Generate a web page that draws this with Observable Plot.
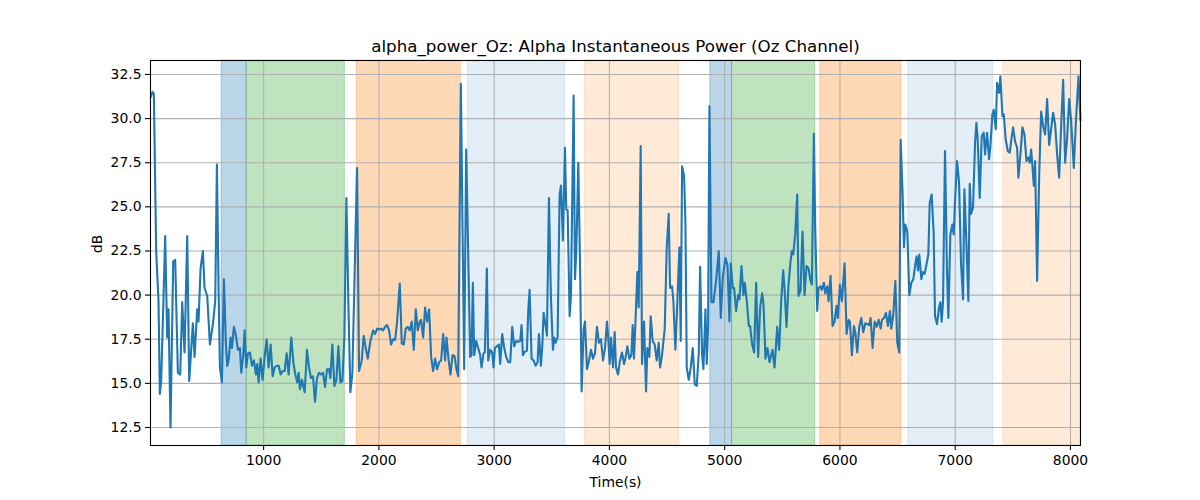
<!DOCTYPE html>
<html>
<head>
<meta charset="utf-8">
<script src="https://cdn.jsdelivr.net/npm/d3@7"></script>
<script src="https://cdn.jsdelivr.net/npm/@observablehq/plot@0.6"></script>
<style>
  html, body { margin: 0; padding: 0; background: #fff; }
  #chart { width: 1200px; height: 500px; }
</style>
</head>
<body>
<div id="chart"></div>
<script>
const chartTitle = "alpha_power_Oz: Alpha Instantaneous Power (Oz Channel)";
const xLabel = "Time(s)";
const yLabel = "dB";
const xTicks = [1000, 2000, 3000, 4000, 5000, 6000, 7000, 8000];
const yTicks = [12.5, 15.0, 17.5, 20.0, 22.5, 25.0, 27.5, 30.0, 32.5];

const spanStart = [635, 853, 1808, 2772, 3788, 4875, 5064, 5829, 6593, 7418];
const spanEnd   = [853, 1705, 2711, 3615, 4604, 5064, 5786, 6532, 7331, 8087];
const spanKind  = ["A", "B", "C", "D", "E", "A", "B", "C", "D", "E"];

const times = [
18.6,36,47.6,67.8,88.1,99.7,111.3,125.7,146,163.4,175,192.3,215.5,232.8,256,276.3,293.6,313.9,337.1,354.4,
386.3,400.8,423.9,435.5,452.9,473.1,487.6,510.8,533.9,560,580.2,594.7,609.2,620.8,638.1,655.5,672.9,684.5,696,713.4,
725,742.4,759.7,777.1,794.5,806,823.4,835,849.5,864,881.3,898.7,916.1,933.4,945,956.6,974,991.3,1008.7,1026,
1043.4,1060.8,1078.2,1095.6,1113,1130.3,1147.7,1165,1182.4,1199.8,1217.1,1240.3,1257.7,1275,1292.4,1304,1315.6,1333,1356.1,
1376.4,1393.8,1411.1,1428.5,1445.9,1463.2,1480.6,1498,1515.4,1532.7,1550.1,1567.5,1579,1596.4,1613.8,1631.2,1648.5,1665.9,1683.3,1700.6,
1718,1735.4,1752.7,1770.1,1793.3,1810.6,1828,1851.2,1868.5,1885.9,1903.3,1926.4,1949.6,1967,1984.3,2001.7,2019.1,2036.5,2053.8,2071.2,
2088.6,2105.9,2123.3,2140.7,2158,2181.2,2198.6,2215.9,2233.3,2250.7,2268,2285.4,2302.8,2320.2,2337.5,2354.9,2366.5,2383.9,2401.2,2418.6,
2436,2453.3,2470.7,2488.1,2505.4,2522.8,2540.2,2557.6,2574.9,2586.5,2603.9,2621.2,2638.6,2656,
2673.4,2687.9,2711,2740,2757.3,2792.1,2803.7,2815.2,2826.8,2844.2,2861.6,2878.9,2890.5,2907.9,2919.5,2936.8,2948.4,2965.8,2983.1,2994.7,
3006.3,3023.7,3041,3052.6,3070,3087.4,3104.7,3122.1,3139.5,3156.8,3174.2,3191.6,3208.9,3226.3,3237.9,3249.5,3266.9,3284.2,3295.8,3307.4,
3324.8,3342.1,3359.5,3376.9,3388.4,3405.8,3417.4,3429,3446.3,3457.9,3475.3,3492.7,3510,3521.6,3533.2,3550.5,3567.9,3579.5,3596.9,3614.2,
3625.8,3637.4,3654.8,3666.3,3689.5,3701.1,3712.7,3730,3747.4,3759,3776.4,3787.9,3805.3,3822.7,3840,3857.4,3874.8,3892.2,3909.5,3926.9,
3944.3,3961.7,3979,3990.6,4002.2,4013.8,4031.1,
4045.5,4057.1,4074.5,4091.9,4109.2,4126.6,4138.2,4155.5,4172.9,4190.3,4201.9,4213.4,4230.8,4242.4,4254,4271.3,4282.9,4300.3,4317.7,4329.2,
4346.6,4358.2,4375.6,4392.9,4410.3,4427.7,4439.3,4456.6,4479.8,4497.2,4514.5,4526.1,4543.5,4555,4572.4,4589.8,4607.2,4618.7,4630.3,4647.7,
4659.3,4670.9,4688.2,4705.6,4723,4740.3,4757.7,4775.1,4786.7,4804,4815.6,4833,4844.6,4856.1,4867.7,4885.1,4902.5,4925.6,4948.8,4966.1,
4983.5,5006.7,5024,5041.4,5053,5070.4,5081.9,5099.3,5116.7,5128.3,5145.6,5163,5174.6,5192,5209.3,5220.9,5238.3,5255.6,5273,5290.4,
5307.8,5325.1,5336.7,5354.1,5371.4,5388.8,
5414.9,5432.3,5443.8,5455.4,5472.8,5490.2,5507.5,5519.1,5536.5,5553.9,5571.2,5582.8,5594.4,5611.8,5629.1,5640.7,5658.1,5675.4,5692.8,5710.2,
5727.6,5744.9,5756.5,5773.9,5785.5,5802.8,5814.4,5831.8,5843.4,5860.7,5872.3,5889.7,5901.3,5918.6,5936,5953.4,5970.7,5982.3,5999.7,6017.1,
6040.2,6057.6,6075,6086.5,6103.9,6121.3,6132.9,6150.2,6167.6,6185,6202.3,6219.7,6237.1,6254.4,6266,6283.4,6300.8,6318.1,6335.5,6352.9,
6364.5,6381.8,6399.2,6416.6,6433.9,6445.5,6462.9,6480.3,6497.6,6515,6526.6,6544,6555.5,6567.1,6584.5,6601.8,6619.2,6636.6,6654,6665.5,
6677.1,6688.7,6706.1,6717.6,6735,
6755.3,6766.9,6778.5,6795.8,6813.2,6824.8,6842.2,6859.5,6871.1,6882.7,6894.3,6911.6,6929,6940.6,6958,6975.3,6986.9,6998.5,7015.9,7033.2,
7050.6,7068,7079.5,7096.9,7114.3,7125.9,7137.4,7154.8,7172.2,7183.8,7195.3,7212.7,7230.1,7247.5,7259,7276.4,7293.8,7305.3,7322.7,7334.3,
7351.7,7363.3,7380.6,7392.2,7409.6,7421.2,7438.5,7455.9,7473.3,7484.9,7502.2,7519.6,7537,7548.5,7565.9,7583.3,7600.6,7618,7635.4,7647,
7658.6,7670.1,7681.7,7693.3,7710.7,7728,7745.4,7762.8,7780.1,7797.5,7814.9,7832.2,7849.6,7867,7884.3,7901.7,7919.1,7936.5,7953.8,7971.2,
7988.6,8005.9,8029.1,8046.5,8069.6,8087
];

const values = [
31.18,31.52,31.4,22.5,19.66,14.4,15.14,18.5,23.35,17.6,19.2,12.5,21.9,22.0,15.6,15.5,19.6,16.75,23.35,15.14,
18.4,16.5,19.2,18.5,21.5,22.5,20.4,19.95,17.2,18.35,19.66,27.4,20.4,15.9,15.05,20.9,17.2,15.99,16.3,17.6,
17.0,18.2,17.7,16.9,17.0,15.6,16.6,18.0,15.9,16.7,16.75,16.0,16.3,15.5,16.1,15.05,16.4,15.2,16.5,17.5,
15.9,17.2,15.4,15.9,16.0,16.0,15.5,15.7,15.7,16.7,15.5,17.6,16.2,15.5,15.05,15.6,14.67,15.2,14.5,
16.9,15.9,15.3,15.4,13.96,15.3,15.6,15.5,15.6,14.8,15.8,15.8,15.3,17.2,14.86,15.2,17.1,15.05,15.14,17.6,
25.5,19.5,14.5,15.6,22.3,27.2,15.7,16.3,17.7,17.0,16.4,17.4,18.0,17.8,18.1,18.05,18.1,18.0,18.2,18.3,
18.0,17.2,17.5,17.45,18.5,20.65,17.25,17.2,18.1,18.2,18.0,18.5,16.9,19.2,18.0,18.5,18.6,17.6,19.3,18.5,
19.2,16.5,15.7,16.4,15.8,16.2,16.3,17.8,16.3,17.6,16.4,15.5,16.6,16.55,
15.8,15.4,31.97,15.8,28.25,16.5,16.6,20.7,16.6,17.4,17.0,16.6,15.9,16.7,16.75,21.5,16.3,16.9,16.75,15.9,
17.0,17.1,17.2,16.1,17.8,17.0,16.5,16.2,16.2,18.2,17.1,17.4,17.35,17.4,18.3,16.6,16.8,16.85,19.1,20.3,
16.4,16.3,16.0,16.2,17.8,16.0,17.1,19.0,18.3,17.7,25.5,19.85,16.9,17.6,17.3,17.6,25.7,26.2,23.1,28.35,
24.85,24.8,18.8,20.0,31.3,20.9,22.5,27.5,20.8,14.54,18.1,18.5,15.8,16.3,16.9,16.4,16.7,18.2,17.3,17.5,
16.3,17.0,18.5,17.5,16.1,17.6,15.9,
17.9,15.9,15.5,16.3,16.75,16.1,16.4,17.1,16.4,16.6,18.3,16.4,19.3,21.3,19.3,28.44,16.1,18.5,14.54,17.0,
16.5,18.8,17.4,17.2,16.3,17.3,15.9,16.6,18.1,22.7,24.6,20.4,20.5,19.66,16.9,19.66,22.7,17.4,27.3,26.75,
24.2,15.9,15.2,15.9,17.0,14.95,14.86,16.7,21.6,16.6,15.8,19.2,16.1,18.2,30.7,19.6,19.6,20.8,22.5,18.7,
21.0,22.1,21.7,18.5,21.8,20.4,20.4,19.1,20.0,19.76,21.65,20.0,20.7,19.66,18.25,18.25,17.2,16.75,20.7,16.5,
19.3,20.1,19.5,16.4,17.0,16.2,
16.9,15.9,17.0,18.2,16.9,19.66,21.4,20.4,18.2,20.6,21.9,22.5,22.3,23.44,25.7,19.95,20.25,23.6,20.0,21.65,
21.5,20.8,20.6,29.14,23.8,19.1,20.4,20.5,20.3,20.7,20.1,20.5,19.66,21.1,18.25,18.5,19.4,18.7,20.6,19.66,
21.8,17.8,18.6,18.5,16.6,18.25,17.9,16.75,18.2,18.7,17.9,18.4,18.35,18.3,18.7,17.0,18.5,18.2,18.6,18.1,
18.6,18.7,19.0,18.25,19.1,18.1,18.9,20.8,17.3,16.75,28.8,25.7,22.7,24.0,23.6,20.0,20.7,20.9,21.75,22.2,
21.4,22.3,20.9,21.3,21.2,
21.9,22.3,25.2,25.7,23.5,18.8,18.35,19.3,19.6,18.5,19.66,28.16,21.3,18.7,23.44,24.0,23.44,25.3,27.6,26.4,
21.75,19.76,26.0,23.0,19.66,26.3,24.6,24.98,28.63,29.76,28.8,25.5,29.0,29.2,27.97,29.2,27.7,28.44,30.24,30.5,
29.4,32.03,31.46,32.4,30.14,30.24,28.8,28.16,28.07,28.7,29.5,28.7,28.35,26.65,27.97,29.5,29.1,27.6,27.8,27.5,
28.25,27.3,26.2,27.6,20.8,26.65,30.4,29.57,29.1,31.1,28.5,29.4,30.33,29.66,27.97,26.65,29.57,32.2,27.5,28.9,
31.1,29.86,27.2,29.76,32.4,29.86
];

const series = times.map((t, i) => ({t, v: values[i]}));
const spans = spanStart.map((s, i) => ({x1: s, x2: spanEnd[i], kind: spanKind[i]}));

const kindColor = {A: "#1f77b4", B: "#2ca02c", C: "#ff7f0e", D: "#1f77b4", E: "#ff7f0e"};
const kindOpacity = {A: 0.3, B: 0.3, C: 0.3, D: 0.12, E: 0.16};

const font = "DejaVu Sans, sans-serif";

const plot = Plot.plot({
  width: 1200,
  height: 500,
  marginLeft: 150,
  marginRight: 120,
  marginTop: 60,
  marginBottom: 55,
  style: {fontFamily: font, fontSize: "13.9px", color: "#000", background: "#fff"},
  x: {domain: [18.6, 8087]},
  y: {domain: [11.48, 33.29]},
  marks: [
    Plot.rect(spans, {
      x1: "x1", x2: "x2",
      fill: d => kindColor[d.kind],
      fillOpacity: d => kindOpacity[d.kind],
      stroke: d => kindColor[d.kind],
      strokeOpacity: d => kindOpacity[d.kind],
      strokeWidth: 1
    }),
    Plot.ruleX(xTicks, {stroke: "#b0b0b0", strokeWidth: 1.1}),
    Plot.ruleY(yTicks, {stroke: "#b0b0b0", strokeWidth: 1.1}),
    Plot.line(series, {x: "t", y: "v", stroke: "#1f77b4", strokeWidth: 2.1, strokeLinejoin: "round", strokeLinecap: "butt"}),
    Plot.frame({stroke: "#000", strokeWidth: 1.1}),
    Plot.axisX(xTicks, {tickSize: 5, tickPadding: 5, stroke: "#000", strokeWidth: 1.1, label: null, fontSize: "13.9px", tickFormat: d => String(d)}),
    Plot.axisY(yTicks, {tickSize: 5, tickPadding: 4, stroke: "#000", strokeWidth: 1.1, label: null, fontSize: "13.9px", tickFormat: d => d.toFixed(1)}),
    Plot.text([chartTitle], {frameAnchor: "top", dy: -9, text: d => d, fontSize: "16.7px", lineAnchor: "bottom", fill: "#000"}),
    Plot.text([xLabel], {frameAnchor: "bottom", dy: 41, text: d => d, fontSize: "13.9px", lineAnchor: "bottom", fill: "#000"}),
    Plot.text([yLabel], {frameAnchor: "left", dx: -53, text: d => d, fontSize: "13.9px", rotate: -90, fill: "#000"})
  ]
});
document.getElementById("chart").appendChild(plot);
</script>
</body>
</html>
